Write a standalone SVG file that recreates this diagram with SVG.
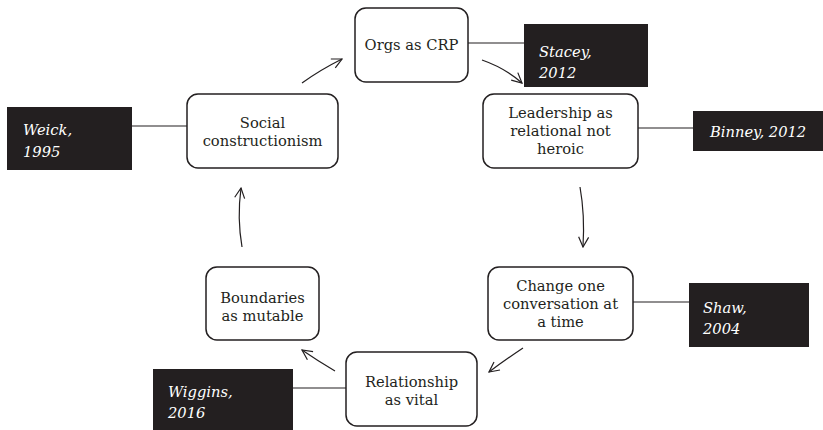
<svg xmlns="http://www.w3.org/2000/svg" width="823" height="430" viewBox="0 0 823 430">
<style>
.node rect{fill:#fff;stroke:#231f20;stroke-width:1.5}
.node text{font-family:"DejaVu Serif",serif;font-size:14.7px;fill:#231f20;text-anchor:middle}
.ref rect{fill:#231f20}
.ref text{font-family:"DejaVu Serif",serif;font-size:14.7px;font-style:italic;fill:#fff}
.links path{fill:none;stroke:#231f20;stroke-width:1.2}
.links line{stroke:#231f20;stroke-width:1.2}
</style>
<defs>
<marker id="ah" viewBox="0 0 12 12" refX="11" refY="6" markerWidth="12" markerHeight="12" markerUnits="userSpaceOnUse" orient="auto">
<path d="M1,1 L11,6 L1,11" fill="none" stroke="#231f20" stroke-width="1.2"/>
</marker>
</defs>
<g class="links">
<line x1="468" y1="43" x2="524" y2="43"/>
<line x1="638" y1="128" x2="693" y2="128"/>
<line x1="132" y1="126" x2="187" y2="126"/>
<line x1="633" y1="302" x2="689" y2="302"/>
<line x1="293" y1="388" x2="346" y2="388"/>
<path d="M302,83 Q320,70 342,59" marker-end="url(#ah)"/>
<path d="M482,60 Q505,68 522,83" marker-end="url(#ah)"/>
<path d="M580,187 Q585,215 583,247" marker-end="url(#ah)"/>
<path d="M523,348 Q505,360 489,372" marker-end="url(#ah)"/>
<path d="M335,371 Q318,361 302,350" marker-end="url(#ah)"/>
<path d="M242,247 Q237,218 241,188" marker-end="url(#ah)"/>
</g>
<g id="orgs" class="node"><rect x="355" y="8" width="113" height="74" rx="11"/><text x="411.5" y="50">Orgs as CRP</text></g>
<g id="leadership" class="node"><rect x="483" y="94" width="155" height="74" rx="11"/><text x="560.5" y="118">Leadership as</text><text x="560.5" y="136">relational not</text><text x="560.5" y="154">heroic</text></g>
<g id="social" class="node"><rect x="187" y="94" width="151" height="74" rx="11"/><text x="262.5" y="128">Social</text><text x="262.5" y="146">constructionism</text></g>
<g id="change" class="node"><rect x="488" y="267" width="145" height="73" rx="11"/><text x="560.5" y="291">Change one</text><text x="560.5" y="309">conversation at</text><text x="560.5" y="327">a time</text></g>
<g id="boundaries" class="node"><rect x="206" y="267" width="113" height="73" rx="11"/><text x="262.5" y="303">Boundaries</text><text x="262.5" y="321">as mutable</text></g>
<g id="relationship" class="node"><rect x="346" y="352" width="131" height="74" rx="11"/><text x="411.5" y="387">Relationship</text><text x="411.5" y="405">as vital</text></g>
<g id="stacey" class="ref"><rect x="524" y="24" width="124" height="63"/><text x="539" y="57">Stacey,</text><text x="539" y="78">2012</text></g>
<g id="binney" class="ref"><rect x="693" y="111" width="130" height="40"/><text x="710" y="137">Binney, 2012</text></g>
<g id="weick" class="ref"><rect x="7" y="107" width="125" height="63"/><text x="23" y="135">Weick,</text><text x="23" y="157">1995</text></g>
<g id="shaw" class="ref"><rect x="689" y="283" width="120" height="64"/><text x="703" y="313">Shaw,</text><text x="703" y="334">2004</text></g>
<g id="wiggins" class="ref"><rect x="153" y="369" width="140" height="61"/><text x="168" y="397">Wiggins,</text><text x="168" y="418">2016</text></g>
</svg>
